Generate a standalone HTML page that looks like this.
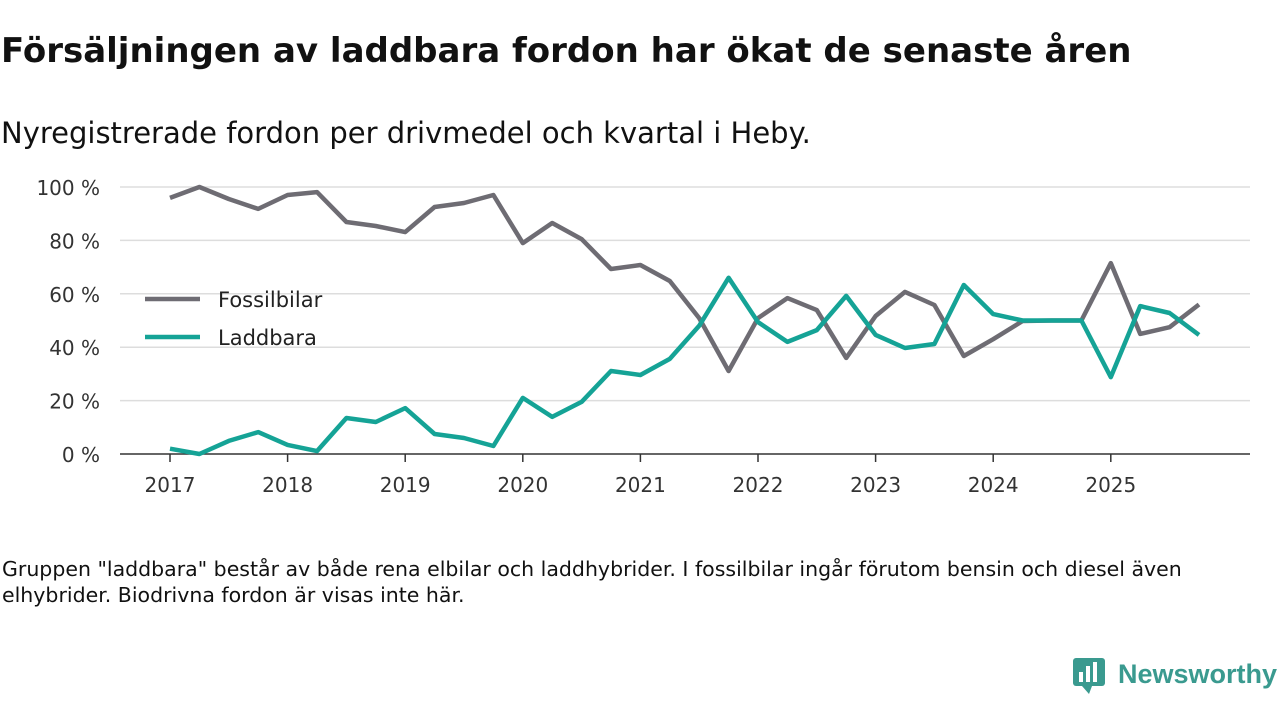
<!DOCTYPE html>
<html><head><meta charset="utf-8"><style>
body{margin:0;width:1280px;height:720px;background:#fff;font-family:"DejaVu Sans","Liberation Sans",sans-serif;overflow:hidden;position:relative}
#title{position:absolute;left:1px;top:31px;font-size:34px;font-weight:bold;color:#111;margin:0;white-space:nowrap}
#sub{position:absolute;left:1px;top:116px;font-size:29px;color:#111;white-space:nowrap}
#note{position:absolute;left:2px;top:556px;font-size:20.5px;line-height:26px;color:#111;width:1270px;white-space:nowrap}
#logo{position:absolute;left:1072px;top:656px}
</style></head><body>
<h1 id="title">Försäljningen av laddbara fordon har ökat de senaste åren</h1>
<div id="sub">Nyregistrerade fordon per drivmedel och kvartal i Heby.</div>
<svg id="chart" width="1280" height="720" style="position:absolute;left:0;top:0"></svg>
<div id="note">Gruppen "laddbara" består av både rena elbilar och laddhybrider. I fossilbilar ingår förutom bensin och diesel även<br>elhybrider. Biodrivna fordon är visas inte här.</div>
<div id="logo">
<svg width="210" height="40"><rect x="1" y="2" width="32" height="28" rx="3" fill="#3a9a8f"/><polygon points="10,30 17,38 20,30" fill="#3a9a8f"/><rect x="7" y="16" width="4" height="10" fill="#fff"/><rect x="14" y="10" width="4" height="16" fill="#fff"/><rect x="21" y="6" width="4" height="20" fill="#fff"/><text x="46" y="27" font-size="27" font-weight="bold" fill="#3a9a8f" font-family="Liberation Sans, sans-serif">Newsworthy</text></svg></div>
<script>
const years=[2017,2018,2019,2020,2021,2022,2023,2024,2025];
const yTicks=[0,20,40,60,80,100];
const fossil=[95.9,100,95.5,91.8,97,98.1,86.9,85.4,83.1,92.5,94,97,79,86.5,80.5,69.3,70.8,64.8,50.9,31.1,50.9,58.4,53.9,36,51.7,60.7,55.8,36.7,43,49.8,50,50,71.5,45,47.5,56];
const laddbara=[2,0,4.9,8.2,3.4,1.1,13.5,12,17.2,7.5,6,3,21,13.9,19.5,31.1,29.6,35.6,48,66,49.4,42,46.4,59.2,44.6,39.7,41.2,63.3,52.4,50,50,50,28.8,55.4,52.8,44.6];
const svg=document.getElementById('chart');const NS='http://www.w3.org/2000/svg';
const x=t=>170+(t-2017)*117.6;const y=v=>454-v*2.67;
function el(tag,attrs,txt){const e=document.createElementNS(NS,tag);for(const k in attrs)e.setAttribute(k,attrs[k]);if(txt!==undefined)e.textContent=txt;svg.appendChild(e);return e;}
yTicks.forEach(v=>{
 if(v>0){const g=el('line',{x1:120,x2:1250,y1:y(v),y2:y(v),stroke:'#ddd','stroke-width':1.5});
 
 }
 const t=el('text',{x:100,y:y(v)+8,'text-anchor':'end','font-size':20,fill:'#333'},v+' %');
 
 
});
const ax=el('line',{x1:120,x2:1250,y1:454,y2:454,stroke:'#333','stroke-width':1.5});


years.forEach(yr=>{
 const tk=el('line',{x1:x(yr),x2:x(yr),y1:454,y2:462,stroke:'#333','stroke-width':1.5});
 
 
 const t=el('text',{x:x(yr),y:492,'text-anchor':'middle','font-size':20,fill:'#333'},yr);
 
 
});
function line(data,color,name){
 const d=data.map((v,i)=>(i?'L':'M')+x(2017+i/4).toFixed(1)+','+y(v).toFixed(1)).join('');
 const p=el('path',{d:d,fill:'none',stroke:color,'stroke-width':4.5,'stroke-linejoin':'round'});
 
 
}
line(fossil,'#6e6c73','fossilbilar-line');
line(laddbara,'#15a396','laddbara-line');
[['Fossilbilar','#6e6c73',299],['Laddbara','#15a396',337]].forEach(([n,c,yy])=>{
 const l=el('line',{x1:145,x2:200,y1:yy,y2:yy,stroke:c,'stroke-width':4.5});
 
 
 const t=el('text',{x:218,y:yy+8,'font-size':21,fill:'#222'},n);
 
 
});
</script>
</body></html>
